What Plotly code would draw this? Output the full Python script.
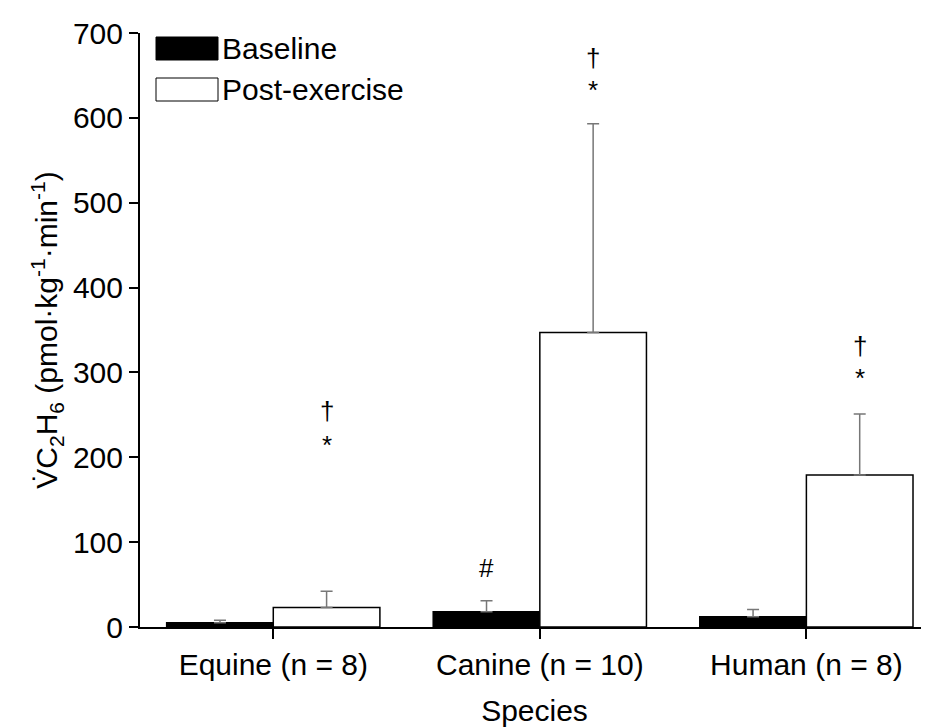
import plotly.graph_objects as go

categories = ["Equine (n = 8)", "Canine (n = 10)", "Human (n = 8)"]
baseline = [5, 18, 12]
baseline_err = [3, 13, 8.5]
post = [23, 347, 179]
post_err = [19, 246, 72]
y_ticks = [0, 100, 200, 300, 400, 500, 600, 700]

# significance labels: (category index, bar offset, y value, text)
sig_idx = [0, 0, 1, 1, 2, 2, 1]
sig_off = [0.2, 0.2, 0.2, 0.2, 0.2, 0.2, -0.2]
sig_y = [254, 214, 670, 633, 331, 293, 70]
sig_text = ["†", "*", "†", "*", "†", "*", "#"]

FONT = "Liberation Sans, Arial, sans-serif"
FS = 30

fig = go.Figure()
fig.add_trace(go.Bar(
    x=categories, y=baseline, name="Baseline",
    marker=dict(color="black", line=dict(color="black", width=1.5)),
    error_y=dict(type="data", symmetric=False, array=baseline_err,
                 arrayminus=[0] * 3, color="#777777", thickness=1.5, width=6),
))
fig.add_trace(go.Bar(
    x=categories, y=post, name="Post-exercise",
    marker=dict(color="white", line=dict(color="black", width=1.5)),
    error_y=dict(type="data", symmetric=False, array=post_err,
                 arrayminus=[0] * 3, color="#777777", thickness=1.5, width=6),
))

for i, o, yv, t in zip(sig_idx, sig_off, sig_y, sig_text):
    fig.add_annotation(x=i + o, y=yv, text=t, showarrow=False,
                       font=dict(size=26, color="black", family=FONT),
                       xref="x", yref="y")

# legend drawn manually (large swatches)
legend_items = [("Baseline", "black"), ("Post-exercise", "white")]
for k, (name, col) in enumerate(legend_items):
    y0 = 1 - (4 + k * 41) / 594
    y1 = y0 - 23 / 594
    fig.add_shape(type="rect", xref="paper", yref="paper",
                  x0=16 / 789, x1=78 / 789, y0=y1, y1=y0,
                  fillcolor=col, line=dict(color="black", width=1))
    fig.add_annotation(xref="paper", yref="paper", x=80 / 789,
                       y=(y0 + y1) / 2, text=name, showarrow=False,
                       xanchor="left", yanchor="middle",
                       font=dict(size=FS, color="black", family=FONT))

# page body has an 8px margin, so shrink the figure to fit the window
fig.update_layout(
    width=921, height=719,
    margin=dict(l=132, r=0, t=25, b=100),
    paper_bgcolor="white", plot_bgcolor="white",
    barmode="group", bargap=0.2, bargroupgap=0,
    showlegend=False,
    font=dict(family=FONT, size=FS, color="black"),
    xaxis=dict(
        type="category", range=[-0.5, 2.46],
        showline=True, linecolor="black", linewidth=2,
        ticks="outside", ticklen=10, tickwidth=2, tickcolor="black",
        showgrid=False, zeroline=False,
        tickfont=dict(size=FS),
        title=dict(text="Species", font=dict(size=FS), standoff=26),
    ),
    yaxis=dict(
        range=[0, 700], tickvals=y_ticks,
        showline=True, linecolor="black", linewidth=2,
        ticks="outside", ticklen=9, tickwidth=2, tickcolor="black",
        showgrid=False, zeroline=False,
        tickfont=dict(size=FS),
        title=dict(text="V\u0307C<sub>2</sub>H<sub>6</sub> (pmol·kg<sup>-1</sup>·min<sup>-1</sup>)",
                   font=dict(size=FS), standoff=6),
    ),
)

fig.write_html("out.html")
